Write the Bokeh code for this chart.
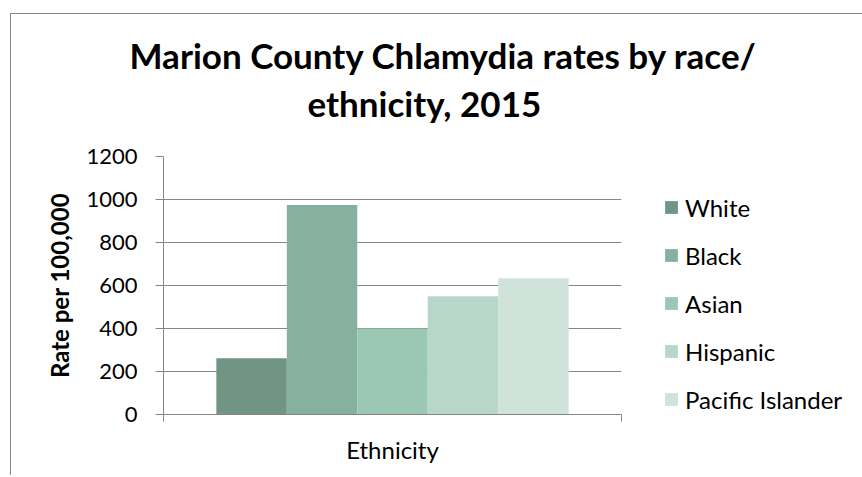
from bokeh.plotting import figure
from bokeh.models import ColumnDataSource, Range1d, FixedTicker, Title, Legend, LegendItem
from bokeh.embed import file_html
from bokeh.resources import INLINE

# ---- data ----
races = ["White", "Black", "Asian", "Hispanic", "Pacific Islander"]
rates = [262, 974, 400, 550, 634]
colors = ["#709585", "#86b1a0", "#9bc7b5", "#b7d7ca", "#d0e3da"]
y_ticks = [0, 200, 400, 600, 800, 1000, 1200]
title_lines = ["Marion County Chlamydia rates by race/", "ethnicity, 2015"]
x_title = "Ethnicity"
y_title = "Rate per 100,000"

FONT = "Lato"
GRAY = "#868686"

n = len(races)
gap = 0.75  # gap width 150% split on both sides
x_start, x_end = -0.5 - gap, n - 0.5 + gap

src = ColumnDataSource(dict(x=list(range(n)), race=races, rate=rates, color=colors))

p = figure(frame_width=458, frame_height=258, output_backend="svg", toolbar_location=None,
           x_range=Range1d(x_start, x_end), y_range=Range1d(0, 1200),
           min_border_left=152, min_border_right=239, min_border_top=142,
           min_border_bottom=61)
p.margin = (13, 0, 0, 10)
p.styles = {"border-top": f"1px solid {GRAY}", "border-left": f"1px solid {GRAY}"}
p.outline_line_color = None

bars = p.vbar(x="x", top="rate", width=1.0, bottom=0, color="color", line_color=None,
              source=src)

# title lines (last added is on top)
p.add_layout(Title(text=title_lines[1], align="left", offset=144,
                   text_font=FONT, text_font_size="35px", text_font_style="bold",
                   text_color="#000000", standoff=66), "above")
p.add_layout(Title(text=title_lines[0], align="left", offset=-34,
                   text_font=FONT, text_font_size="35px", text_font_style="bold",
                   text_color="#000000", standoff=-58), "above")

# y axis
ya = p.yaxis[0]
ya.ticker = FixedTicker(ticks=y_ticks)
ya.minor_tick_line_color = None
ya.major_tick_in = 0
ya.major_tick_out = 8
ya.major_tick_line_color = GRAY
ya.axis_line_color = GRAY
ya.major_label_text_font = FONT
ya.major_label_text_font_size = "22px"
ya.major_label_text_color = "#000000"
ya.major_label_standoff = 18
ya.axis_label = y_title
ya.axis_label_text_font = FONT
ya.axis_label_text_font_size = "24px"
ya.axis_label_text_font_style = "bold"
ya.axis_label_text_color = "#000000"
ya.axis_label_standoff = 9

# x axis
xa = p.xaxis[0]
xa.ticker = FixedTicker(ticks=[x_start, x_end])
xa.minor_tick_line_color = None
xa.major_tick_in = 0
xa.major_tick_out = 7
xa.major_tick_line_color = GRAY
xa.axis_line_color = GRAY
xa.major_label_overrides = {x_start: " ", x_end: " "}
xa.major_label_text_font_size = "1px"
xa.major_label_standoff = 0
xa.axis_label = x_title
xa.axis_label_text_font = FONT
xa.axis_label_text_font_size = "24px"
xa.axis_label_text_font_style = "normal"
xa.axis_label_text_color = "#000000"
xa.axis_label_standoff = 9

# grid
p.xgrid.grid_line_color = None
p.ygrid.ticker = FixedTicker(ticks=y_ticks)
p.ygrid.grid_line_color = GRAY
p.ygrid.grid_line_width = 1

# legend in right panel
lg = Legend(items=[LegendItem(label=dict(field="race"), renderers=[bars])],
            location=(42, 0))
lg.border_line_color = None
lg.background_fill_alpha = 0
lg.padding = 0
lg.margin = 0
lg.glyph_width = 16
lg.glyph_height = 16
lg.label_height = 30
lg.spacing = 18
lg.label_standoff = 6
lg.label_text_font = FONT
lg.label_text_font_size = "24px"
lg.label_text_color = "#000000"
p.add_layout(lg, "right")

open("out.html", "w").write(file_html(p, INLINE))
